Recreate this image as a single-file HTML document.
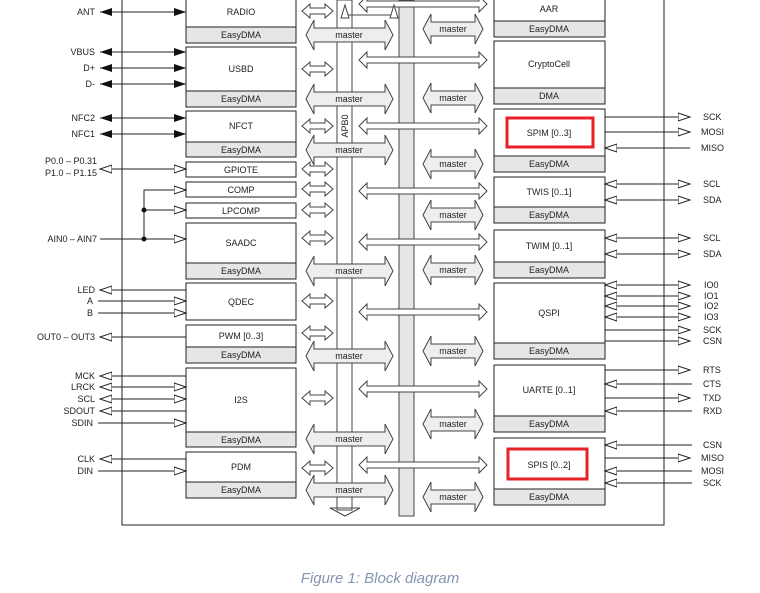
<!DOCTYPE html>
<html><head><meta charset="utf-8"><style>
html,body{margin:0;padding:0;background:#fff;width:760px;height:593px;overflow:hidden}
text{font-family:"Liberation Sans",sans-serif;font-size:9px;fill:#222}
.c{text-anchor:middle}.r{text-anchor:end}
</style></head><body>
<svg width="760" height="593" viewBox="0 0 760 593" xmlns="http://www.w3.org/2000/svg">
<defs>
<marker id="h" markerUnits="userSpaceOnUse" markerWidth="14" markerHeight="10" refX="12" refY="5" orient="auto-start-reverse"><path d="M0,1 L12,5 L0,9 z" fill="#fff" stroke="#222" stroke-width="1"/></marker>
<marker id="f" markerUnits="userSpaceOnUse" markerWidth="14" markerHeight="10" refX="12" refY="5" orient="auto-start-reverse"><path d="M0,1 L12,5 L0,9 z" fill="#111"/></marker>
<polygon id="sa" points="302,0 310,-7 310,-3 325,-3 325,-7 333,0 325,7 325,3 310,3 310,7" fill="#fff" stroke="#444"/>
<polygon id="la" points="359,0 367,-8 367,-3 479,-3 479,-8 487,0 479,8 479,3 367,3 367,8" fill="#fff" stroke="#444"/>
<polygon id="ml" points="306,0 314,-15 314,-7 385,-7 385,-15 393,0 385,15 385,7 314,7 314,15" fill="#eee" stroke="#444"/>
<polygon id="mr" points="423,0 431,-15 431,-7 475,-7 475,-15 483,0 475,15 475,7 431,7 431,15" fill="#eee" stroke="#444"/>
</defs>
<g stroke="#222" fill="none">
<path d="M122,0 V525 H664 V0"/>
</g>
<!-- buses -->
<rect x="337" y="0" width="15" height="510" fill="#fff" stroke="#444"/>
<polygon points="330,508 345,516 360,508" fill="none" stroke="#444"/>
<rect x="399" y="0" width="15" height="516" fill="#e6e6e6" stroke="#444"/>
<text x="348" y="126" transform="rotate(-90 348 126)" class="c">APB0</text>
<!-- master arrows -->
<use href="#ml" y="35"/><use href="#ml" y="99"/><use href="#ml" y="150"/><use href="#ml" y="271"/><use href="#ml" y="356"/><use href="#ml" y="439"/><use href="#ml" y="490"/>
<g class="c"><text x="349" y="38" class="c">master</text><text x="349" y="102" class="c">master</text><text x="349" y="153" class="c">master</text><text x="349" y="274" class="c">master</text><text x="349" y="359" class="c">master</text><text x="349" y="442" class="c">master</text><text x="349" y="493" class="c">master</text></g>
<use href="#mr" y="29"/><use href="#mr" y="98"/><use href="#mr" y="164"/><use href="#mr" y="215"/><use href="#mr" y="270"/><use href="#mr" y="351"/><use href="#mr" y="424"/><use href="#mr" y="497"/>
<text x="453" y="32" class="c">master</text><text x="453" y="101" class="c">master</text><text x="453" y="167" class="c">master</text><text x="453" y="218" class="c">master</text><text x="453" y="273" class="c">master</text><text x="453" y="354" class="c">master</text><text x="453" y="427" class="c">master</text><text x="453" y="500" class="c">master</text>
<!-- small arrows -->
<use href="#sa" y="11"/><use href="#sa" y="69"/><use href="#sa" y="126"/><use href="#sa" y="169"/><use href="#sa" y="189"/><use href="#sa" y="210"/><use href="#sa" y="238"/><use href="#sa" y="301"/><use href="#sa" y="333"/><use href="#sa" y="398"/><use href="#sa" y="468"/>
<!-- long arrows -->
<use href="#la" y="4"/><use href="#la" y="60"/><use href="#la" y="126"/><use href="#la" y="191"/><use href="#la" y="242"/><use href="#la" y="312"/><use href="#la" y="389"/><use href="#la" y="465"/>
<path d="M345,15 H394" stroke="#444"/>
<polygon points="345,5 341,18 349,18" fill="#fff" stroke="#444"/>
<polygon points="394,5 390,18 398,18" fill="#fff" stroke="#444"/>
<!-- left blocks -->
<g stroke="#222" stroke-width="1">
<rect x="186" y="-1" width="110" height="28" fill="#fff"/><rect x="186" y="27" width="110" height="16" fill="#e6e6e6"/>
<rect x="186" y="47" width="110" height="44" fill="#fff"/><rect x="186" y="91" width="110" height="16" fill="#e6e6e6"/>
<rect x="186" y="111" width="110" height="31" fill="#fff"/><rect x="186" y="142" width="110" height="15" fill="#e6e6e6"/>
<rect x="186" y="162" width="110" height="15" fill="#fff"/>
<rect x="186" y="182" width="110" height="15" fill="#fff"/>
<rect x="186" y="203" width="110" height="15" fill="#fff"/>
<rect x="186" y="223" width="110" height="40" fill="#fff"/><rect x="186" y="263" width="110" height="16" fill="#e6e6e6"/>
<rect x="186" y="283" width="110" height="37" fill="#fff"/>
<rect x="186" y="325" width="110" height="22" fill="#fff"/><rect x="186" y="347" width="110" height="16" fill="#e6e6e6"/>
<rect x="186" y="368" width="110" height="64" fill="#fff"/><rect x="186" y="432" width="110" height="15" fill="#e6e6e6"/>
<rect x="186" y="452" width="110" height="30" fill="#fff"/><rect x="186" y="482" width="110" height="16" fill="#e6e6e6"/>
</g>
<text x="241" y="15" class="c">RADIO</text><text x="241" y="38" class="c">EasyDMA</text>
<text x="241" y="72" class="c">USBD</text><text x="241" y="102" class="c">EasyDMA</text>
<text x="241" y="129" class="c">NFCT</text><text x="241" y="153" class="c">EasyDMA</text>
<text x="241" y="173" class="c">GPIOTE</text>
<text x="241" y="193" class="c">COMP</text>
<text x="241" y="214" class="c">LPCOMP</text>
<text x="241" y="246" class="c">SAADC</text><text x="241" y="274" class="c">EasyDMA</text>
<text x="241" y="305" class="c">QDEC</text>
<text x="241" y="339" class="c">PWM [0..3]</text><text x="241" y="358" class="c">EasyDMA</text>
<text x="241" y="403" class="c">I2S</text><text x="241" y="443" class="c">EasyDMA</text>
<text x="241" y="470" class="c">PDM</text><text x="241" y="493" class="c">EasyDMA</text>
<!-- right blocks -->
<g stroke="#222">
<rect x="494" y="-1" width="111" height="22" fill="#fff"/><rect x="494" y="21" width="111" height="16" fill="#e6e6e6"/>
<rect x="494" y="41" width="111" height="47" fill="#fff"/><rect x="494" y="88" width="111" height="16" fill="#e6e6e6"/>
<rect x="494" y="109" width="111" height="47" fill="#fff"/><rect x="494" y="156" width="111" height="16" fill="#e6e6e6"/>
<rect x="494" y="177" width="111" height="30" fill="#fff"/><rect x="494" y="207" width="111" height="16" fill="#e6e6e6"/>
<rect x="494" y="230" width="111" height="32" fill="#fff"/><rect x="494" y="262" width="111" height="16" fill="#e6e6e6"/>
<rect x="494" y="283" width="111" height="60" fill="#fff"/><rect x="494" y="343" width="111" height="16" fill="#e6e6e6"/>
<rect x="494" y="365" width="111" height="51" fill="#fff"/><rect x="494" y="416" width="111" height="16" fill="#e6e6e6"/>
<rect x="494" y="438" width="111" height="51" fill="#fff"/><rect x="494" y="489" width="111" height="16" fill="#e6e6e6"/>
</g>
<rect x="507" y="118" width="86" height="29" fill="none" stroke="#e8202a" stroke-width="3"/>
<rect x="508" y="449" width="79" height="30" fill="none" stroke="#e8202a" stroke-width="3"/>
<text x="549" y="12" class="c">AAR</text><text x="549" y="32" class="c">EasyDMA</text>
<text x="549" y="67" class="c">CryptoCell</text><text x="549" y="99" class="c">DMA</text>
<text x="549" y="136" class="c">SPIM [0..3]</text><text x="549" y="167" class="c">EasyDMA</text>
<text x="549" y="195" class="c">TWIS [0..1]</text><text x="549" y="218" class="c">EasyDMA</text>
<text x="549" y="249" class="c">TWIM [0..1]</text><text x="549" y="273" class="c">EasyDMA</text>
<text x="549" y="316" class="c">QSPI</text><text x="549" y="354" class="c">EasyDMA</text>
<text x="549" y="393" class="c">UARTE [0..1]</text><text x="549" y="427" class="c">EasyDMA</text>
<text x="549" y="468" class="c">SPIS [0..2]</text><text x="549" y="500" class="c">EasyDMA</text>
<!-- left signals -->
<g stroke="#222" fill="none">
<path d="M100,12 H186" marker-start="url(#f)" marker-end="url(#f)"/>
<path d="M100,52 H186" marker-start="url(#f)" marker-end="url(#f)"/>
<path d="M100,68 H186" marker-start="url(#f)" marker-end="url(#f)"/>
<path d="M100,84 H186" marker-start="url(#f)" marker-end="url(#f)"/>
<path d="M100,118 H186" marker-start="url(#f)" marker-end="url(#f)"/>
<path d="M100,134 H186" marker-start="url(#f)" marker-end="url(#f)"/>
<path d="M100,169 H186" marker-start="url(#h)" marker-end="url(#h)"/>
<path d="M100,239 H186" marker-end="url(#h)"/>
<path d="M144,239 V190 H186" marker-end="url(#h)"/>
<path d="M144,210 H186" marker-end="url(#h)"/>
<path d="M100,290 H186" marker-start="url(#h)"/>
<path d="M98,301 H186" marker-end="url(#h)"/>
<path d="M98,313 H186" marker-end="url(#h)"/>
<path d="M100,337 H186" marker-start="url(#h)"/>
<path d="M100,376 H186" marker-start="url(#h)"/>
<path d="M100,387 H186" marker-start="url(#h)" marker-end="url(#h)"/>
<path d="M100,399 H186" marker-start="url(#h)" marker-end="url(#h)"/>
<path d="M100,411 H186" marker-start="url(#h)"/>
<path d="M98,423 H186" marker-end="url(#h)"/>
<path d="M100,459 H186" marker-start="url(#h)"/>
<path d="M98,471 H186" marker-end="url(#h)"/>
</g>
<circle cx="144" cy="210" r="2.5" fill="#111"/><circle cx="144" cy="239" r="2.5" fill="#111"/>
<g class="r">
<text x="95" y="15" class="r">ANT</text>
<text x="95" y="55" class="r">VBUS</text><text x="95" y="71" class="r">D+</text><text x="95" y="87" class="r">D-</text>
<text x="95" y="121" class="r">NFC2</text><text x="95" y="137" class="r">NFC1</text>
<text x="97" y="164" class="r">P0.0 – P0.31</text><text x="97" y="176" class="r">P1.0 – P1.15</text>
<text x="97" y="242" class="r">AIN0 – AIN7</text>
<text x="95" y="293" class="r">LED</text><text x="93" y="304" class="r">A</text><text x="93" y="316" class="r">B</text>
<text x="95" y="340" class="r">OUT0 – OUT3</text>
<text x="95" y="379" class="r">MCK</text><text x="95" y="390" class="r">LRCK</text><text x="95" y="402" class="r">SCL</text><text x="95" y="414" class="r">SDOUT</text><text x="93" y="426" class="r">SDIN</text>
<text x="95" y="462" class="r">CLK</text><text x="93" y="474" class="r">DIN</text>
</g>
<!-- right signals -->
<g stroke="#222" fill="none">
<path d="M605,117 H690" marker-end="url(#h)"/>
<path d="M605,132 H690" marker-end="url(#h)"/>
<path d="M605,148 H690" marker-start="url(#h)"/>
<path d="M605,184 H690" marker-start="url(#h)" marker-end="url(#h)"/>
<path d="M605,200 H690" marker-start="url(#h)" marker-end="url(#h)"/>
<path d="M605,238 H690" marker-start="url(#h)" marker-end="url(#h)"/>
<path d="M605,254 H690" marker-start="url(#h)" marker-end="url(#h)"/>
<path d="M605,285 H690" marker-start="url(#h)" marker-end="url(#h)"/>
<path d="M605,296 H690" marker-start="url(#h)" marker-end="url(#h)"/>
<path d="M605,306 H690" marker-start="url(#h)" marker-end="url(#h)"/>
<path d="M605,317 H690" marker-start="url(#h)" marker-end="url(#h)"/>
<path d="M605,330 H690" marker-end="url(#h)"/>
<path d="M605,341 H690" marker-end="url(#h)"/>
<path d="M605,370 H690" marker-end="url(#h)"/>
<path d="M605,384 H692" marker-start="url(#h)"/>
<path d="M605,398 H690" marker-end="url(#h)"/>
<path d="M605,411 H692" marker-start="url(#h)"/>
<path d="M605,445 H692" marker-start="url(#h)"/>
<path d="M605,458 H690" marker-end="url(#h)"/>
<path d="M605,471 H692" marker-start="url(#h)"/>
<path d="M605,483 H692" marker-start="url(#h)"/>
</g>
<text x="703" y="120">SCK</text><text x="701" y="135">MOSI</text><text x="701" y="151">MISO</text>
<text x="703" y="187">SCL</text><text x="703" y="203">SDA</text>
<text x="703" y="241">SCL</text><text x="703" y="257">SDA</text>
<text x="704" y="288">IO0</text><text x="704" y="299">IO1</text><text x="704" y="309">IO2</text><text x="704" y="320">IO3</text>
<text x="703" y="333">SCK</text><text x="703" y="344">CSN</text>
<text x="703" y="373">RTS</text><text x="703" y="387">CTS</text><text x="703" y="401">TXD</text><text x="703" y="414">RXD</text>
<text x="703" y="448">CSN</text><text x="701" y="461">MISO</text><text x="701" y="474">MOSI</text><text x="703" y="486">SCK</text>
<text x="380" y="583" class="c" style="font-size:15px;font-style:italic;fill:#8496b0">Figure 1: Block diagram</text>
</svg>
</body></html>
